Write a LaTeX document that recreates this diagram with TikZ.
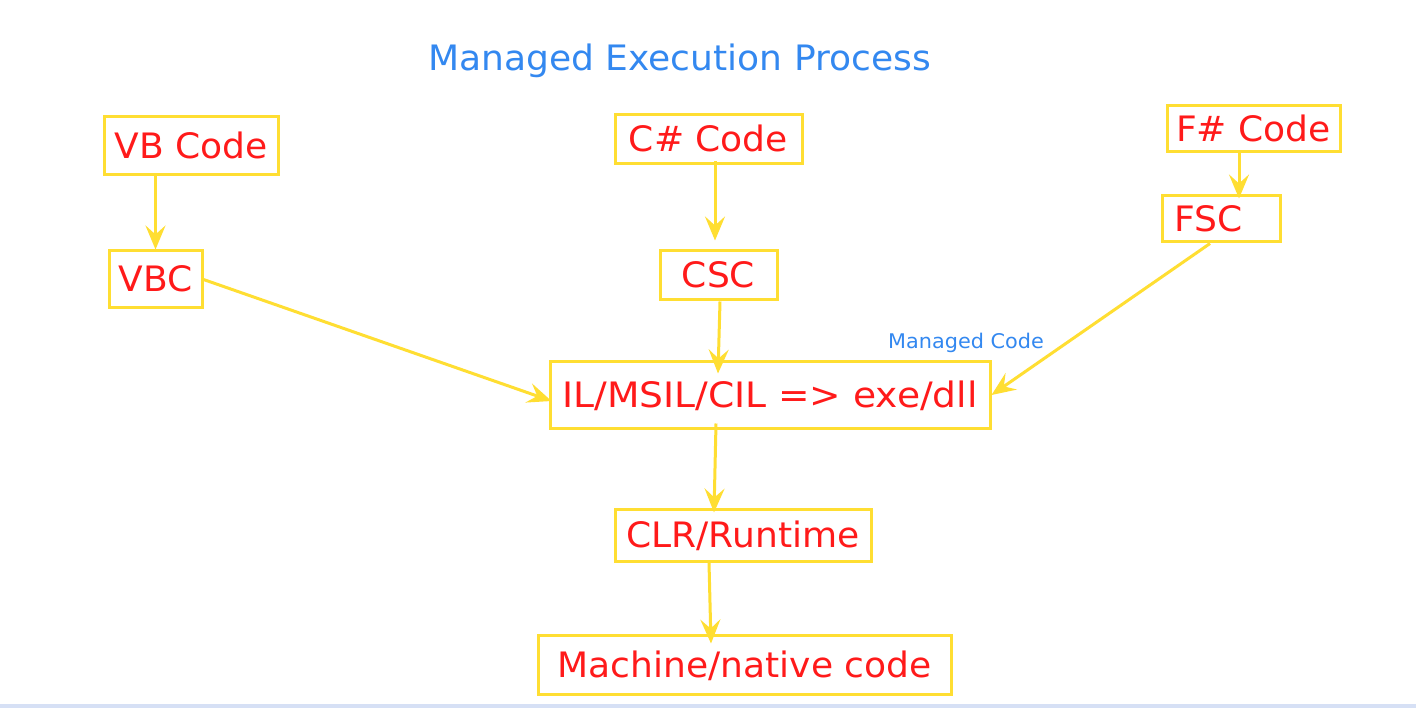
\documentclass[tikz,border=0pt]{standalone}
\usepackage{fontspec}
\setmainfont{DejaVu Sans}[FakeStretch=1.03]
\newfontfamily\widefont{DejaVu Sans}[FakeStretch=1.075]
\usetikzlibrary{arrows.meta}
\definecolor{boxyellow}{RGB}{255,222,50}
\definecolor{txtred}{RGB}{255,26,26}
\definecolor{ttlblue}{RGB}{51,136,240}
\definecolor{strip}{RGB}{214,224,245}
\tikzset{
  codebox/.style={draw=boxyellow, line width=3pt, text=txtred,
    font=\fontsize{35}{40}\selectfont, inner sep=0pt,
    text height=25pt, text depth=0pt},
  flow/.style={draw=boxyellow, line width=3pt,
    -{Stealth[length=24pt,width=20pt,inset=9pt]}},
}
\begin{document}
\begin{tikzpicture}[x=1pt,y=-1pt]
\useasboundingbox (0,0) rectangle (1416,708);
\fill[white] (0,0) rectangle (1416,708);
\fill[strip] (0,704) rectangle (1416,708);

\node[text=ttlblue, font=\fontsize{35}{40}\selectfont, anchor=base, inner sep=0pt] (title) at (679.5,71) {Managed Execution Process};
\node[text=ttlblue, font=\fontsize{20.2}{24}\selectfont, anchor=base west, inner sep=0pt] (mcode) at (888,349) {Managed Code};

\node[codebox, minimum width=174pt, minimum height=58pt] (vb) at (191,146) {VB Code};
\node[codebox, minimum width=93pt, minimum height=57pt] (vbc) at (155.5,279.5) {VBC};
\node[codebox, minimum width=187pt, minimum height=49pt] (cs) at (708.5,139.5) {C\# Code};
\node[codebox, minimum width=117pt, minimum height=49pt] (csc) at (718.5,275.5) {CSC};
\node[codebox, minimum width=173pt, minimum height=46pt] (fs) at (1253.5,129) {F\# Code};
\node[codebox, minimum height=46pt, inner xsep=12pt, text width=94pt, align=left] (fsc) at (1221,219) {FSC};
\node[codebox, minimum width=440pt, minimum height=66pt] (il) at (770,395) {\widefont IL/MSIL/CIL => exe/dll};
\node[codebox, minimum width=256pt, minimum height=52pt] (clr) at (743,535) {CLR/Runtime};
\node[codebox, minimum width=413pt, minimum height=59pt] (mc) at (744.5,664.5) {Machine/native code};

\draw[flow] (vbc.north |- vb.south) -- (vbc.north);
\draw[flow] ([xshift=6.5pt,yshift=4pt]cs.south) -- ([xshift=-3.5pt,yshift=9pt]csc.north);
\draw[flow] ([xshift=-14.5pt]fs.south) -- ([xshift=18pt,yshift=-4pt]fsc.north);
\draw[flow] ([xshift=-11pt]fsc.south) -- (il.east);
\draw[flow] (vbc.east) -- ([xshift=3pt,yshift=-6pt]il.west);
\draw[flow] ([xshift=1.5pt]csc.south) -- ([xshift=-52pt,yshift=-13pt]il.north);
\draw[flow] ([xshift=-54pt,yshift=6pt]il.south) -- ([xshift=-29pt,yshift=-5pt]clr.north);
\draw[flow] ([xshift=-34pt]clr.south) -- ([xshift=-33.5pt,yshift=-10pt]mc.north);
\end{tikzpicture}
\end{document}
